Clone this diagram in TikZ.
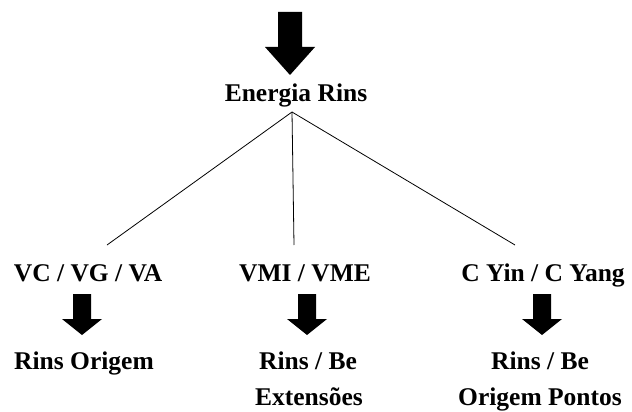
\documentclass[tikz,border=0pt]{standalone}
\usepackage{fontspec}
\setmainfont{Liberation Serif}
\begin{document}
\begin{tikzpicture}[x=1pt,y=-1pt,
  lbl/.style={font=\fontsize{25.5}{30}\selectfont\bfseries, inner sep=0pt, anchor=base},
  branch/.style={line width=0.8pt},
  pics/bigarrow/.style={code={
    \fill (-12,0) -- (12,0) -- (12,35) -- (25,35) -- (0,63) -- (-25,35) -- (-12,35) -- cycle;}},
  pics/smallarrow/.style={code={
    \fill (-9,0) -- (9,0) -- (9,25) -- (20,25) -- (0,41) -- (-20,25) -- (-9,25) -- cycle;}}
]
\useasboundingbox (0,0) rectangle (632,412);
\pic at (290,12) {bigarrow};
\node[lbl] (er) at (296,102) {Energia Rins};
\coordinate (apex) at (292,112);
\coordinate (e1) at (107,245);
\coordinate (e2) at (294,245);
\coordinate (e3) at (515,245);
\draw[branch] (apex) -- (e1);
\draw[branch] (apex) -- (e2);
\draw[branch] (apex) -- (e3);
\node[lbl] (a1) at (88,281) {VC / VG / VA};
\node[lbl] (a2) at (305,281) {VMI / VME};
\node[lbl] (a3) at (543,281) {C Yin / C Yang};
\pic at (82,294) {smallarrow};
\pic at (307,294) {smallarrow};
\pic at (542,294) {smallarrow};
\node[lbl] (b1) at (84,369) {Rins Origem};
\node[lbl] (b2) at (308,369) {Rins / Be};
\node[lbl] (b3) at (540,369) {Rins / Be};
\node[lbl] (c2) at (309,405) {Extensões};
\node[lbl] (c3) at (540,405) {Origem Pontos};
\end{tikzpicture}
\end{document}
